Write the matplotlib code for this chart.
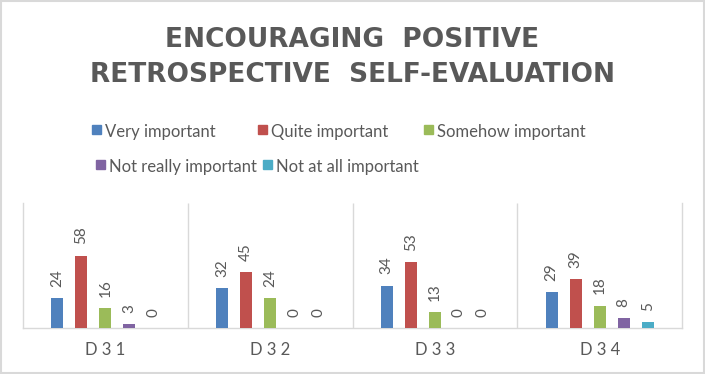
import matplotlib
matplotlib.use('Agg')
from matplotlib import pyplot as plt
from matplotlib.patches import Rectangle
import numpy as np

categories = ['D 3 1', 'D 3 2', 'D 3 3', 'D 3 4']
series_names = ['Very important', 'Quite important', 'Somehow important',
                'Not really important', 'Not at all important']
very_important = [24, 32, 34, 29]
quite_important = [58, 45, 53, 39]
somehow_important = [16, 24, 13, 18]
not_really_important = [3, 0, 0, 8]
not_at_all_important = [0, 0, 0, 5]
series_values = [very_important, quite_important, somehow_important,
                 not_really_important, not_at_all_important]
colors = ['#4F81BD', '#C0504D', '#9BBB59', '#8064A2', '#4BACC6']
title = 'ENCOURAGING  POSITIVE\nRETROSPECTIVE  SELF-EVALUATION'

W, H = 705, 374
text_color = '#595959'
grid_color = '#D9D9D9'
plt.rcParams['font.family'] = ['Lato', 'DejaVu Sans']

fig = plt.figure(figsize=(W / 100, H / 100), dpi=100)
# plot area in pixels: x 23..682, y 203..328
ax = fig.add_axes([23 / W, (H - 328) / H, (682 - 23) / W, (328 - 203) / H])

x = np.arange(len(categories))
step = 0.146
width = 0.073
for i in range(len(series_values)):
    xs = x + (i - 2) * step
    ax.bar(xs, series_values[i], width, color=colors[i], zorder=3)
    for xx, v in zip(xs, series_values[i]):
        ax.annotate(str(v), (xx, v), xytext=(0, 8), textcoords='offset points',
                    rotation=90, ha='center', va='bottom', fontsize=11,
                    color=text_color)

ax.set_xlim(-0.5, len(categories) - 0.5)
ax.set_ylim(0, 100)
ax.vlines(x[:-1] + 0.5, 0, 100, color=grid_color, lw=1, zorder=1)
ax.set_yticks([])
ax.set_xticks(x)
ax.set_xticklabels(categories, fontsize=12, color=text_color)
ax.tick_params(axis='x', length=0, pad=10)
ax.spines['top'].set_visible(False)
for s in ['left', 'right', 'bottom']:
    ax.spines[s].set_color(grid_color)
    ax.spines[s].set_linewidth(1)

# title
fig.text(0.5, 1 - 57.5 / H, title, ha='center', va='center', fontsize=19,
         fontweight='bold', color=text_color, linespacing=1.45,
         family=['DejaVu Sans'])

# legend, laid out like the Excel one (two rows)
legend_pos = [(92, 131), (258, 131), (424, 131), (96, 166), (263, 166)]
for i in range(len(series_names)):
    px, py = legend_pos[i]
    fig.patches.append(Rectangle((px / W, (H - py - 3) / H), 9 / W, 9 / H,
                                 transform=fig.transFigure, color=colors[i]))
    fig.text((px + 13) / W, 1 - (py + 6) / H, series_names[i], ha='left',
             va='baseline', fontsize=12, color=text_color)

# outer chart border
fig.patches.append(Rectangle((1 / W, 1 / H), (W - 2) / W, (H - 2) / H,
                             transform=fig.transFigure, fill=False,
                             edgecolor=grid_color, lw=1.5))

fig.savefig('out.png', dpi=100)
